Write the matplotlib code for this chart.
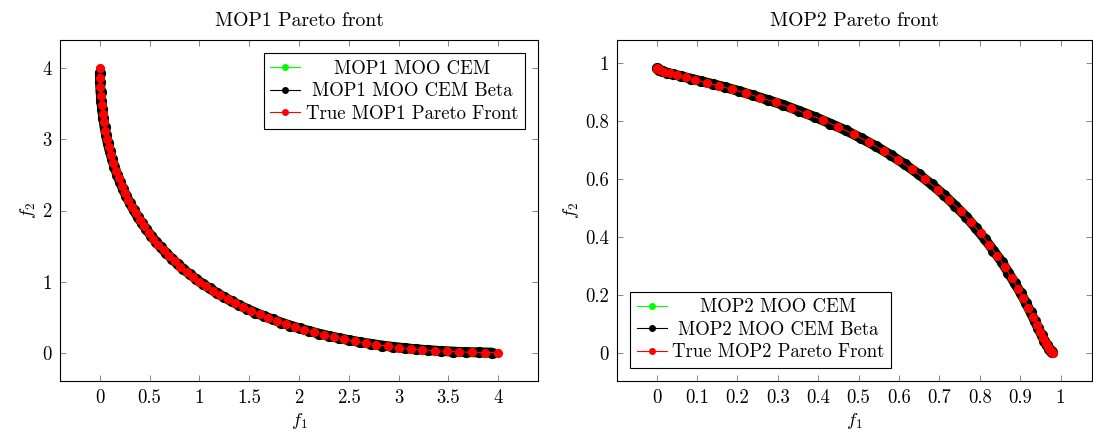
import matplotlib
matplotlib.use("Agg")
import matplotlib.pyplot as plt
from matplotlib.lines import Line2D
from matplotlib.ticker import FuncFormatter, MultipleLocator

plt.rcParams["font.family"] = "cmr10"
plt.rcParams["mathtext.fontset"] = "cm"
plt.rcParams["axes.formatter.use_mathtext"] = True
plt.rcParams["font.size"] = 13.5

# ---- MOP1: true Pareto front samples ----
mop1_true_f1 = [0.000, 0.001, 0.004, 0.010, 0.018, 0.028, 0.040, 0.054, 0.071, 0.090,
                0.111, 0.134, 0.160, 0.188, 0.218, 0.250, 0.284, 0.321, 0.360, 0.401,
                0.444, 0.490, 0.538, 0.588, 0.640, 0.694, 0.751, 0.810, 0.871, 0.934,
                1.000, 1.068, 1.138, 1.210, 1.284, 1.361, 1.440, 1.521, 1.604, 1.690,
                1.778, 1.868, 1.960, 2.054, 2.151, 2.250, 2.351, 2.454, 2.560, 2.668,
                2.778, 2.890, 3.004, 3.121, 3.240, 3.361, 3.484, 3.610, 3.738, 3.868,
                4.000]
mop1_true_f2 = [4.000, 3.868, 3.738, 3.610, 3.484, 3.361, 3.240, 3.121, 3.004, 2.890,
                2.778, 2.668, 2.560, 2.454, 2.351, 2.250, 2.151, 2.054, 1.960, 1.868,
                1.778, 1.690, 1.604, 1.521, 1.440, 1.361, 1.284, 1.210, 1.138, 1.068,
                1.000, 0.934, 0.871, 0.810, 0.751, 0.694, 0.640, 0.588, 0.538, 0.490,
                0.444, 0.401, 0.360, 0.321, 0.284, 0.250, 0.218, 0.188, 0.160, 0.134,
                0.111, 0.090, 0.071, 0.054, 0.040, 0.028, 0.018, 0.010, 0.004, 0.001,
                0.000]

# ---- MOP1: CEM solutions ----
mop1_cem_f1 = [0.000, 0.003, 0.007, 0.014, 0.023, 0.034, 0.047, 0.063, 0.080, 0.100,
               0.123, 0.147, 0.174, 0.203, 0.234, 0.267, 0.303, 0.340, 0.380, 0.423,
               0.467, 0.514, 0.563, 0.614, 0.667, 0.723, 0.780, 0.840, 0.903, 0.967,
               1.034, 1.103, 1.174, 1.247, 1.323, 1.400, 1.480, 1.563, 1.647, 1.734,
               1.823, 1.914, 2.007, 2.103, 2.200, 2.300, 2.403, 2.507, 2.614, 2.723,
               2.834, 2.947, 3.063, 3.180, 3.300, 3.423, 3.547, 3.674, 3.803, 3.934]
mop1_cem_f2 = [3.934, 3.803, 3.674, 3.547, 3.423, 3.300, 3.180, 3.063, 2.947, 2.834,
               2.723, 2.614, 2.507, 2.403, 2.300, 2.200, 2.103, 2.007, 1.914, 1.823,
               1.734, 1.647, 1.563, 1.480, 1.400, 1.323, 1.247, 1.174, 1.103, 1.034,
               0.967, 0.903, 0.840, 0.780, 0.723, 0.667, 0.614, 0.563, 0.514, 0.467,
               0.423, 0.380, 0.340, 0.303, 0.267, 0.234, 0.203, 0.174, 0.147, 0.123,
               0.100, 0.080, 0.063, 0.047, 0.034, 0.023, 0.014, 0.007, 0.003, 0.000]

# ---- MOP2: true Pareto front samples ----
mop2_true_f1 = [0.000, 0.002, 0.008, 0.018, 0.033, 0.050, 0.072, 0.096, 0.124, 0.154,
                0.187, 0.221, 0.257, 0.295, 0.333, 0.372, 0.411, 0.450, 0.488, 0.526,
                0.562, 0.598, 0.632, 0.665, 0.696, 0.725, 0.753, 0.778, 0.802, 0.824,
                0.844, 0.863, 0.879, 0.895, 0.908, 0.920, 0.931, 0.941, 0.949, 0.957,
                0.963, 0.969, 0.974, 0.978, 0.982]
mop2_true_f2 = [0.982, 0.978, 0.974, 0.969, 0.963, 0.957, 0.949, 0.941, 0.931, 0.920,
                0.908, 0.895, 0.879, 0.863, 0.844, 0.824, 0.802, 0.778, 0.753, 0.725,
                0.696, 0.665, 0.632, 0.598, 0.562, 0.526, 0.488, 0.450, 0.411, 0.372,
                0.333, 0.295, 0.257, 0.221, 0.187, 0.154, 0.124, 0.096, 0.072, 0.050,
                0.033, 0.018, 0.008, 0.002, 0.000]

# ---- MOP2: CEM solutions ----
mop2_cem_f1 = [0.001, 0.005, 0.013, 0.025, 0.041, 0.061, 0.084, 0.110, 0.139, 0.170,
               0.204, 0.239, 0.276, 0.314, 0.352, 0.391, 0.430, 0.469, 0.507, 0.544,
               0.580, 0.615, 0.649, 0.681, 0.711, 0.739, 0.766, 0.790, 0.813, 0.834,
               0.854, 0.871, 0.887, 0.902, 0.915, 0.926, 0.936, 0.945, 0.953, 0.960,
               0.966, 0.972, 0.976, 0.980]
mop2_cem_f2 = [0.980, 0.976, 0.972, 0.966, 0.960, 0.953, 0.945, 0.936, 0.926, 0.915,
               0.902, 0.887, 0.871, 0.854, 0.834, 0.813, 0.790, 0.766, 0.739, 0.711,
               0.681, 0.649, 0.615, 0.580, 0.544, 0.507, 0.469, 0.430, 0.391, 0.352,
               0.314, 0.276, 0.239, 0.204, 0.170, 0.139, 0.110, 0.084, 0.061, 0.041,
               0.025, 0.013, 0.005, 0.001]

panels = [
    dict(name="MOP1", cem=(mop1_cem_f1, mop1_cem_f2), true=(mop1_true_f1, mop1_true_f2),
         lim=(-0.4, 4.4), step=0.5, ystep=1.0, loc="upper right",
         rect=[0.0549, 0.1261, 0.4373, 0.7821]),
    dict(name="MOP2", cem=(mop2_cem_f1, mop2_cem_f2), true=(mop2_true_f1, mop2_true_f2),
         lim=(-0.098, 1.078), step=0.1, ystep=0.2, loc="lower left",
         rect=[0.5645, 0.1261, 0.4346, 0.7821]),
]

fig = plt.figure(figsize=(10.93, 4.36), dpi=100)
fmt = FuncFormatter(lambda v, p: "%g" % round(v, 4))
legends = []

for p in panels:
    ax = fig.add_axes(p["rect"])
    cf1, cf2 = p["cem"]
    tf1, tf2 = p["true"]
    # the CEM runs are dense enough to read as a solid band
    ax.plot(cf1, cf2, color="#00ff00", lw=7.1, marker="o", ms=7.1, mec="#00ff00",
            solid_capstyle="round", solid_joinstyle="round")
    ax.plot(cf1, cf2, color="black", lw=7.0, marker="o", ms=7.0, mec="black",
            solid_capstyle="round", solid_joinstyle="round")
    ax.plot(tf1, tf2, color="red", lw=0.8, marker="o", ms=5.6, mec="red")

    ax.set_xlim(p["lim"])
    ax.set_ylim(p["lim"])
    ax.xaxis.set_major_locator(MultipleLocator(p["step"]))
    ax.yaxis.set_major_locator(MultipleLocator(p["ystep"]))
    ax.xaxis.set_major_formatter(fmt)
    ax.yaxis.set_major_formatter(fmt)
    ax.tick_params(direction="in", top=True, right=True, length=4.5, width=0.6,
                   color="0.45", labelcolor="black", pad=6)
    for s in ax.spines.values():
        s.set_linewidth(0.8)
    ax.set_title(p["name"] + " Pareto front", fontsize=14.2, pad=10)
    ax.set_xlabel("$f_1$", labelpad=3)
    ax.set_ylabel("$f_2$", labelpad=3)

    handles = [
        Line2D([], [], color="#00ff00", lw=0.8, marker="o", ms=4),
        Line2D([], [], color="black", lw=0.8, marker="o", ms=4),
        Line2D([], [], color="red", lw=0.8, marker="o", ms=4),
    ]
    labels = [p["name"] + " MOO CEM", p["name"] + " MOO CEM Beta",
              "True " + p["name"] + " Pareto Front"]
    leg = ax.legend(handles, labels, loc=p["loc"], fancybox=False, framealpha=1,
                    edgecolor="black", borderpad=0.35, labelspacing=0.25,
                    handlelength=1.6, handletextpad=0.3, borderaxespad=0.7)
    leg.get_frame().set_linewidth(0.8)
    legends.append(leg)

# centre the legend entries inside the text column
fig.canvas.draw()
r = fig.canvas.get_renderer()
for leg in legends:
    texts = leg.get_texts()
    widths = [t.get_window_extent(r).width for t in texts]
    wmax = max(widths)
    for t, w in zip(texts, widths):
        t.set_x((wmax - w) / 2)

fig.savefig("out.png", dpi=100)
